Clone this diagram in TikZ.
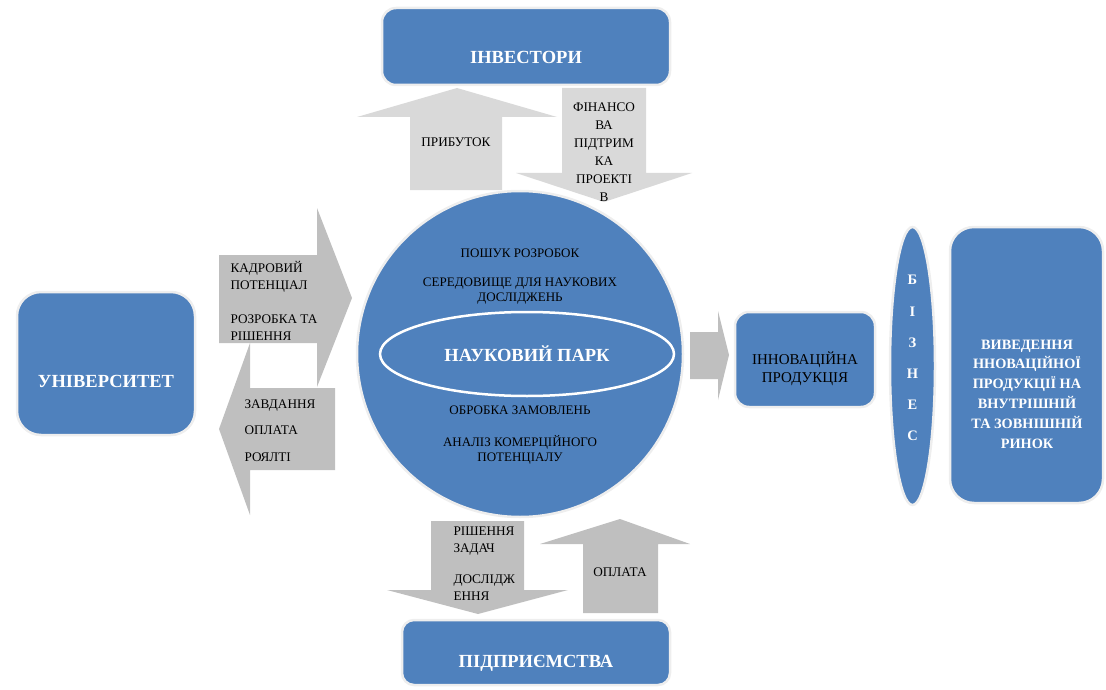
\documentclass[tikz,border=0pt]{standalone}
\usepackage{fontspec}
\setmainfont{Liberation Serif}
\usetikzlibrary{positioning,shapes.geometric}
\definecolor{parkblue}{HTML}{4F81BD}
\definecolor{lightgrey}{HTML}{D9D9D9}
\definecolor{midgrey}{HTML}{BFBFBF}
\definecolor{halo}{HTML}{EEEEEE}

\begin{document}
\begin{tikzpicture}[x=1pt, y=-1pt,
  block/.style={fill=parkblue, draw=halo, line width=2.5pt, rounded corners=#1, inner sep=0pt},
  block/.default=14pt,
  headtext/.style={text=white, font=\fontsize{18.5}{22}\selectfont\bfseries},
  boldtext/.style={text=white, font=\fontsize{14.3}{19.8}\selectfont\bfseries, align=center},
  smalltext/.style={text=black, font=\fontsize{13.2}{17}\selectfont, align=left},
  circtext/.style={text=black, font=\fontsize{13}{15}\selectfont, align=center}]
\useasboundingbox (0,0) rectangle (1106,690);
% block arrows
\fill[lightgrey] (410,190) -- (410,117) -- (357,117) -- (457,88) -- (557,117) -- (502,117) -- (502,190) -- cycle;
\fill[lightgrey] (562,88) -- (562,173) -- (516,173) -- (604,202) -- (692,173) -- (646,173) -- (646,88) -- cycle;
\fill[midgrey] (219,255) -- (317,255) -- (317,208) -- (352,298) -- (317,387) -- (317,343) -- (219,343) -- cycle;
\fill[midgrey] (335,388) -- (250,388) -- (250,343) -- (219,429) -- (250,515) -- (250,470) -- (335,470) -- cycle;
\fill[midgrey] (690,332) -- (718,332) -- (718,311) -- (729,355) -- (718,400) -- (718,379) -- (690,379) -- cycle;
\fill[midgrey] (431,521) -- (431,590) -- (387,590) -- (478,614) -- (568,590) -- (524,590) -- (524,521) -- cycle;
\fill[midgrey] (583,613) -- (583,544) -- (540,544) -- (620,519) -- (690,544) -- (658,544) -- (658,613) -- cycle;
% boxes
\node[block] (investors) at (526,46.5) [minimum width=288pt, minimum height=77pt] {};
\node[block=24pt] (univ) at (106,363.5) [minimum width=178pt, minimum height=143pt] {};
\node[block=12pt] (firms) at (536,652.5) [minimum width=268pt, minimum height=65pt] {};
\node[block] (product) at (805,359.5) [minimum width=140pt, minimum height=95pt] {};
\node[block=24pt] (market) at (1026.5,365) [minimum width=153pt, minimum height=276pt] {};
\node[ellipse, fill=parkblue, draw=halo, line width=2.5pt, minimum width=45pt, minimum height=278pt] (biz) at (912.5,366) {};
\node[circle, fill=parkblue, draw=halo, line width=2.5pt, minimum size=326pt] (park) at (520,354) {};
\node[ellipse, draw=white, line width=2.5pt, minimum width=294pt, minimum height=84pt] (core) at (527,354) {};
% labels
\node[headtext] at (526,57) {ІНВЕСТОРИ};
\node[headtext] at (106,381) {УНІВЕРСИТЕТ};
\node[headtext] at (536,663) {ПІДПРИЄМСТВА};
\node[headtext] at (core) {НАУКОВИЙ ПАРК};
\node[smalltext, align=center, font=\fontsize{15}{18}\selectfont] at (805,369) {ІННОВАЦІЙНА\\ПРОДУКЦІЯ};
\node[boldtext] at (1027,394) {ВИВЕДЕННЯ\\ННОВАЦІЙНОЇ\\ПРОДУКЦІЇ НА\\ВНУТРІШНІЙ\\ТА ЗОВНІШНІЙ\\РИНОК};
\foreach \ch [count=\i] in {Б,І,З,Н,Е,С}
  \node[boldtext, font=\fontsize{14.5}{16}\selectfont\bfseries] at (912.5,249+31.2*\i) {\ch};
\node[smalltext] at (456,142) {ПРИБУТОК};
\node[smalltext, align=center, font=\fontsize{13.2}{18}\selectfont] at (604,152) {ФІНАНСО\\ВА\\ПІДТРИМ\\КА\\ПРОЕКТІ\\В};
\node[smalltext, anchor=west] at (227,300.5) {КАДРОВИЙ\\ПОТЕНЦІАЛ\\[17pt]РОЗРОБКА ТА\\РІШЕННЯ};
\node[smalltext, anchor=west, font=\fontsize{13.2}{26.5}\selectfont] at (241,430.5) {ЗАВДАННЯ\\ОПЛАТА\\РОЯЛТІ};
\node[smalltext, anchor=west] at (450,564) {РІШЕННЯ\\ЗАДАЧ\\[14pt]ДОСЛІДЖ\\ЕННЯ};
\node[smalltext] at (620,572) {ОПЛАТА};
\node[circtext] at (520,253) {ПОШУК РОЗРОБОК};
\node[circtext] at (520,291.5) {СЕРЕДОВИЩЕ ДЛЯ НАУКОВИХ\\ДОСЛІДЖЕНЬ};
\node[circtext] at (520,410) {ОБРОБКА ЗАМОВЛЕНЬ};
\node[circtext] at (520,449.5) {АНАЛІЗ КОМЕРЦІЙНОГО\\ПОТЕНЦІАЛУ};
\end{tikzpicture}
\end{document}
